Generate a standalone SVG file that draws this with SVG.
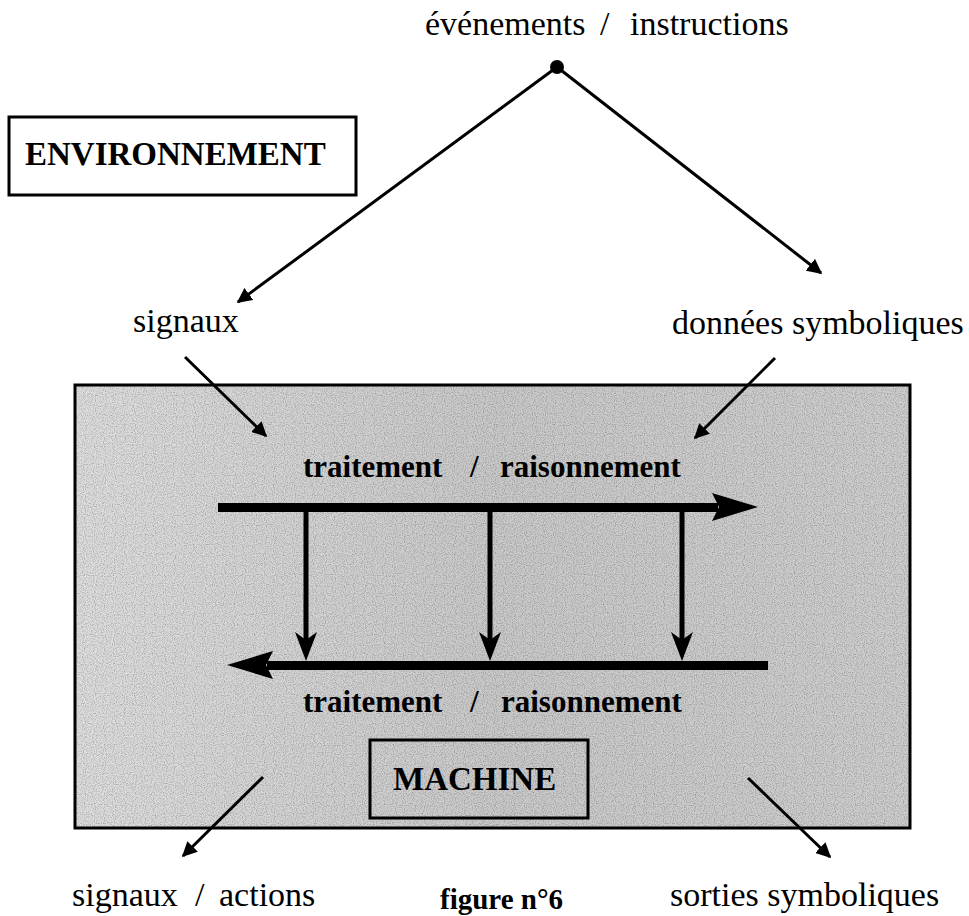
<svg xmlns="http://www.w3.org/2000/svg" width="969" height="916" viewBox="0 0 969 916">
<style>
  .t { font-family: "Liberation Serif", "Times New Roman", serif; fill: #000; }
  .reg { font-size: 34px; }
  .bold { font-size: 31px; font-weight: bold; }
  .title { font-size: 33px; font-weight: bold; }
  .thin { stroke: #000; stroke-width: 3; fill: none; marker-end: url(#ah); }
  .thick { fill: #000; stroke: none; }
  .box { fill: none; stroke: #000; stroke-width: 3; }
</style>
<defs>
  <marker id="ah" viewBox="0 0 10 10" refX="9" refY="5" markerWidth="5" markerHeight="5" orient="auto" markerUnits="strokeWidth">
    <path d="M0,0 L10,5 L0,10 z" fill="#000"/>
  </marker>
  <linearGradient id="g" x1="0" y1="0" x2="1" y2="0">
    <stop offset="0" stop-color="#dedede"/>
    <stop offset="0.5" stop-color="#cacaca"/>
    <stop offset="1" stop-color="#cecece"/>
  </linearGradient>
  <filter id="noise" x="0" y="0" width="100%" height="100%">
    <feTurbulence type="fractalNoise" baseFrequency="0.9" numOctaves="1" seed="4"/>
    <feColorMatrix type="matrix" values="0 0 0 0 0  0 0 0 0 0  0 0 0 0 0  -2.2 0 0 0 1.25"/>
  </filter>
</defs>

<g id="machine">
  <rect x="75" y="385" width="835" height="443" fill="url(#g)"/>
  <rect x="75" y="385" width="835" height="443" filter="url(#noise)" opacity="0.3"/>
  <rect x="75" y="385" width="835" height="443" fill="none" stroke="#000" stroke-width="3"/>
</g>

<g id="environnement">
  <rect class="box" x="9" y="117" width="347" height="78" stroke-width="2.5"/>
  <text class="t title" x="25" y="165">ENVIRONNEMENT</text>
</g>

<g id="evenements">
  <text class="t reg" x="425" y="35">événements</text>
  <text class="t reg" x="600" y="35">/</text>
  <text class="t reg" x="630" y="35">instructions</text>
  <circle cx="557" cy="67" r="7" fill="#000"/>
</g>

<g id="signaux">
  <text class="t reg" x="133" y="332">signaux</text>
</g>
<g id="donnees">
  <text class="t reg" x="672" y="334">données symboliques</text>
</g>

<g id="traitement-haut">
  <text class="t bold" x="303" y="477">traitement</text>
  <text class="t bold" x="470" y="477">/</text>
  <text class="t bold" x="500" y="477">raisonnement</text>
</g>
<g id="traitement-bas">
  <text class="t bold" x="303" y="712">traitement</text>
  <text class="t bold" x="470" y="712">/</text>
  <text class="t bold" x="501" y="712">raisonnement</text>
</g>

<g id="machine-label">
  <rect class="box" x="370" y="740" width="218" height="78"/>
  <text class="t title" x="393" y="790" font-size="34">MACHINE</text>
</g>

<g id="signaux-actions">
  <text class="t reg" x="72" y="906">signaux</text>
  <text class="t reg" x="195" y="906">/</text>
  <text class="t reg" x="219" y="906">actions</text>
</g>
<g id="figure">
  <text class="t" x="440" y="909" font-size="29" font-weight="bold">figure n°6</text>
</g>
<g id="sorties">
  <text class="t reg" x="670" y="906">sorties symboliques</text>
</g>

<g id="connectors">
  <line class="thin" x1="557" y1="67" x2="238" y2="302"/>
  <line class="thin" x1="557" y1="67" x2="821" y2="273"/>
  <line class="thin" x1="185" y1="357" x2="266" y2="436"/>
  <line class="thin" x1="775" y1="358" x2="695" y2="438"/>
  <line class="thin" x1="263" y1="777" x2="183" y2="856"/>
  <line class="thin" x1="748" y1="778" x2="830" y2="857"/>

  <rect class="thick" x="218" y="503" width="500" height="9"/>
  <polygon class="thick" points="758,507 712,493 719,507 712,521"/>

  <rect class="thick" x="267" y="661" width="501" height="9"/>
  <polygon class="thick" points="227,665 273,651 266,665 273,679"/>

  <g stroke="#000" stroke-width="5">
    <line x1="306" y1="507" x2="306" y2="640"/>
    <line x1="490" y1="507" x2="490" y2="640"/>
    <line x1="682" y1="507" x2="682" y2="640"/>
  </g>
  <polygon class="thick" points="306,661 295,632 306,640 317,632"/>
  <polygon class="thick" points="490,661 479,632 490,640 501,632"/>
  <polygon class="thick" points="682,661 671,632 682,640 693,632"/>
</g>
</svg>
